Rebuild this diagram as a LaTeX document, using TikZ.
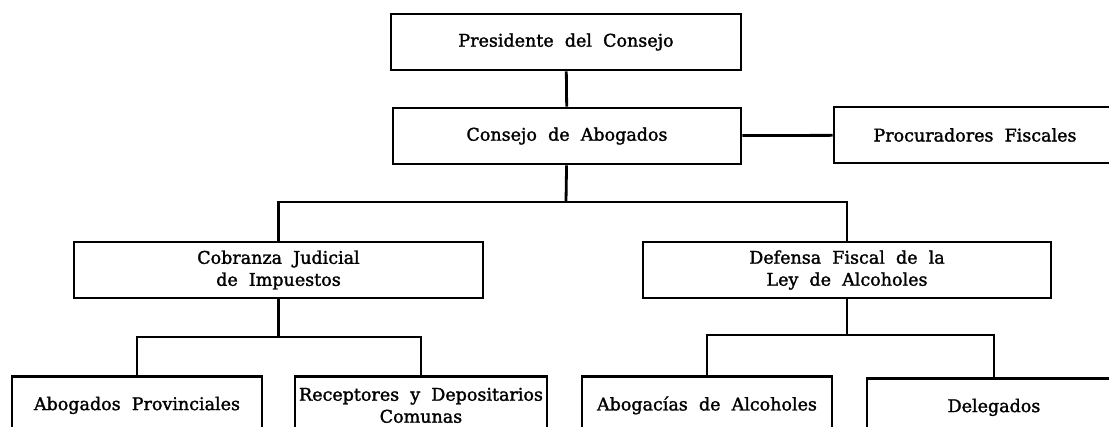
\documentclass[tikz,border=0pt]{standalone}
\usepackage{fontspec}
\setmainfont[WordSpace=2]{DejaVu Serif}
\newfontfamily\boxfont[WordSpace=2, FakeBold=1.6]{DejaVu Serif}
\usepackage{tikz}

\tikzset{
  box/.style={draw, line width=2.8pt, minimum height=56pt, inner sep=0pt, align=center,
    font=\boxfont\fontsize{17.5}{22}\selectfont},
  lowbox/.style={box, anchor=north, minimum height=58pt},
  link/.style={line width=2.8pt}
}

\begin{document}
\begin{tikzpicture}[x=1pt, y=-1pt]
\path [use as bounding box, clip] (0,0) rectangle (1109,427);

\node (pres) [box, minimum width=350pt] at (566,42) {Presidente del Consejo};
\node (cons) [box, minimum width=348pt] at (567,136) {Consejo de Abogados};
\node (proc) [box, minimum width=282pt] at (975,135) {Procuradores Fiscales};

\node (cob) [box, minimum width=409pt] at (278.5,270) {Cobranza Judicial\\de Impuestos};
\node (def) [box, minimum width=408pt] at (847,270) {Defensa Fiscal de la\\Ley de Alcoholes};

\node (prov) [lowbox, minimum width=250pt] at (137,375) {Abogados Provinciales};
\node (rec) [lowbox, minimum width=252pt] at (421,375) {Receptores y Depositarios\\Comunas};
\node (abo) [lowbox, minimum width=250pt] at (707,375) {Abogacías de Alcoholes};
\node (del) [lowbox, minimum width=254pt] at (994,377) {Delegados};

\coordinate (j1) at (566,202);
\coordinate (j2) at (278.5,337);
\coordinate (j3) at (847,335);

\draw [link] (pres) -- (cons);
\draw [link] (cons) -- (proc);
\draw [link] (cons) -- (j1);
\draw [link] (cob.north) |- (j1) -| (def.north);
\draw [link] (cob) -- (j2);
\draw [link] (prov.north) |- (j2) -| (rec.north);
\draw [link] (def) -- (j3);
\draw [link] (abo.north) |- (j3) -| (del.north);
\end{tikzpicture}
\end{document}
